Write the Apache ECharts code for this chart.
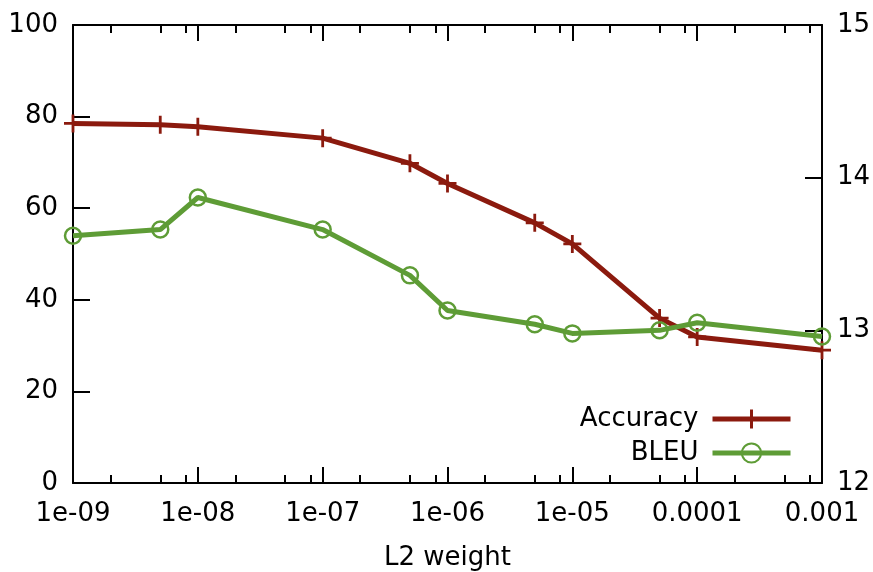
<!DOCTYPE html>
<html>
<head>
<meta charset="utf-8">
<script src="https://cdn.jsdelivr.net/npm/echarts@6/dist/echarts.min.js"></script>
<style>
  html, body { margin: 0; padding: 0; background: #fff; }
  #chart-container { width: 873px; height: 572px; }
</style>
</head>
<body>
<div id="chart-container"></div>
<script>
var dom = document.getElementById("chart-container");
var myChart = echarts.init(dom, null, { renderer: "canvas" });

// L2 weight values (x) and the two measured series
var l2Weights = [1e-9, 5e-9, 1e-8, 1e-7, 5e-7, 1e-6, 5e-6, 1e-5, 5e-5, 1e-4, 1e-3];
var accuracy = [78.5, 78.2, 77.8, 75.3, 69.8, 65.4, 56.8, 52.2, 36.0, 31.9, 29.0];
var bleu = [13.62, 13.66, 13.87, 13.66, 13.36, 13.13, 13.04, 12.98, 13.0, 13.05, 12.96];

// tick positions
var majorTicks = [1e-9, 1e-8, 1e-7, 1e-6, 1e-5, 1e-4, 1e-3];
var minorTicks = [];
majorTicks.slice(0, -1).forEach(function (d) {
  minorTicks.push(2 * d, 5 * d, 8 * d);
});

var FONT = "DejaVu Sans";
var FS = 26;
var RED = "#8b1a0e";
var GREEN = "#5e9c36";
var PLUS = "path://M7.6,0H10.4V7.6H18V10.4H10.4V18H7.6V10.4H0V7.6H7.6Z";

function pairs(ys) {
  return l2Weights.map(function (x, i) { return [x, ys[i]]; });
}

function fmtX(v) {
  if (v >= 1e-4) return String(+v.toPrecision(1));
  var e = Math.round(Math.log10(v));
  return "1e-" + (e > -10 ? "0" : "") + (-e);
}

function tickAxis(pos, ticks, len, showLine) {
  return {
    type: "log",
    min: 1e-9,
    max: 1e-3,
    position: pos,
    axisLine: { show: showLine, lineStyle: { color: "#000", width: 2 } },
    axisTick: {
      show: true,
      inside: true,
      length: len,
      customValues: ticks,
      lineStyle: { color: "#000", width: 2 },
    },
    axisLabel: { show: false },
    splitLine: { show: false },
  };
}

var option = {
  animation: false,
  grid: {
    left: 73, right: 51, top: 25, bottom: 89,
    containLabel: false,
    outerBoundsMode: "none",
  },
  legend: {
    orient: "vertical",
    right: 80,
    top: 406,
    padding: 0,
    align: "right",
    itemWidth: 78,
    itemHeight: 24,
    itemGap: 8,
    textStyle: { fontFamily: FONT, fontSize: FS, color: "#000", padding: [0, 9, 0, 0] },
    data: [
      { name: "Accuracy", lineStyle: { width: 5 } },
      { name: "BLEU", lineStyle: { width: 5 } },
    ],
  },
  xAxis: [
    {
      type: "log",
      min: 1e-9,
      max: 1e-3,
      position: "bottom",
      name: "L2 weight",
      nameLocation: "middle",
      nameGap: 62,
      nameTextStyle: { fontFamily: FONT, fontSize: FS, color: "#000" },
      axisLine: { lineStyle: { color: "#000", width: 2 } },
      axisTick: {
        inside: true,
        length: 16,
        customValues: majorTicks,
        lineStyle: { color: "#000", width: 2 },
      },
      axisLabel: {
        margin: 18,
        fontFamily: FONT,
        fontSize: FS,
        color: "#000",
        customValues: majorTicks,
        formatter: fmtX,
      },
      splitLine: { show: false },
    },
    tickAxis("bottom", minorTicks, 8, false),
    tickAxis("top", majorTicks, 16, true),
    tickAxis("top", minorTicks, 8, false),
  ],
  yAxis: [
    {
      type: "value",
      min: 0,
      max: 100,
      interval: 20,
      position: "left",
      axisLine: { show: true, lineStyle: { color: "#000", width: 2 } },
      axisTick: { show: true, inside: true, length: 17, lineStyle: { color: "#000", width: 2 } },
      axisLabel: { margin: 15, fontFamily: FONT, fontSize: FS, color: "#000" },
      splitLine: { show: false },
    },
    {
      type: "value",
      min: 12,
      max: 15,
      interval: 1,
      position: "right",
      axisLine: { show: true, lineStyle: { color: "#000", width: 2 } },
      axisTick: { show: true, inside: true, length: 17, lineStyle: { color: "#000", width: 2 } },
      axisLabel: { margin: 15, fontFamily: FONT, fontSize: FS, color: "#000" },
      splitLine: { show: false },
    },
  ],
  series: [
    {
      name: "Accuracy",
      type: "line",
      xAxisIndex: 0,
      yAxisIndex: 0,
      data: pairs(accuracy),
      clip: false,
      symbol: PLUS,
      symbolSize: 18,
      showAllSymbol: true,
      lineStyle: { color: RED, width: 5 },
      itemStyle: { color: RED },
    },
    {
      name: "BLEU",
      type: "line",
      xAxisIndex: 0,
      yAxisIndex: 1,
      data: pairs(bleu),
      clip: false,
      symbol: "circle",
      symbolSize: 16,
      showAllSymbol: true,
      lineStyle: { color: GREEN, width: 5 },
      itemStyle: { color: "rgba(0,0,0,0)", borderColor: GREEN, borderWidth: 2.5 },
    },
  ],
};

myChart.setOption(option);

window.addEventListener("resize", function () {
  myChart.resize();
});
</script>
</body>
</html>
